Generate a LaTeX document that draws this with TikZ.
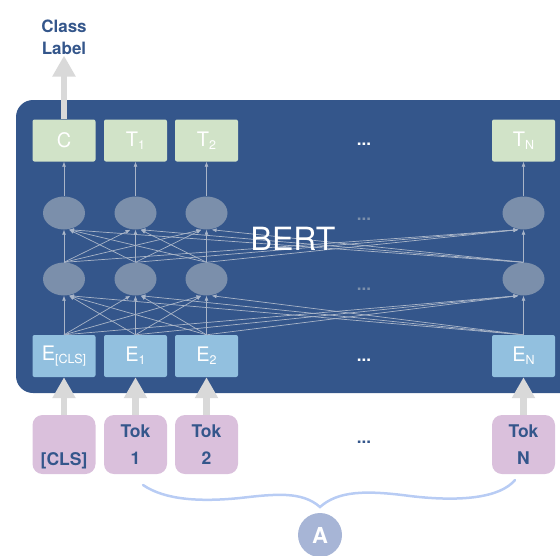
\documentclass[tikz,border=0pt]{standalone}
\usepackage{fontspec}
\setmainfont{TeX Gyre Heros}
\usetikzlibrary{arrows.meta,shapes.geometric}

\definecolor{bertblue}{HTML}{34568B}
\definecolor{hidden}{HTML}{7B8FAB}
\definecolor{outgreen}{HTML}{D1E3C8}
\definecolor{embblue}{HTML}{92C0DF}
\definecolor{tokpink}{HTML}{DAC0DC}
\definecolor{fatgray}{HTML}{D9D9D9}
\definecolor{linkgray}{HTML}{A9B5C8}
\definecolor{bracecol}{HTML}{B8CCF4}
\definecolor{circcol}{HTML}{A7B5D6}

% token with a lowered subscript
\newcommand\withsub[2]{#1{\fontsize{12.5}{12.5}\selectfont\raisebox{-3pt}{#2}}}

\tikzset{
  boxbase/.style={rectangle, rounded corners=2pt, minimum width=63pt, minimum height=42pt,
    inner sep=0pt, text=white, font=\fontsize{20}{22}\selectfont},
  outbox/.style={boxbase, fill=outgreen},
  embbox/.style={boxbase, fill=embblue},
  tokbox/.style={rectangle, rounded corners=10pt, minimum width=63pt, minimum height=59pt,
    inner sep=0pt, fill=tokpink, text=bertblue, align=center,
    font=\bfseries\fontsize{17.5}{27}\selectfont},
  hnode/.style={ellipse, fill=hidden, minimum width=42pt, minimum height=33pt, inner sep=0pt},
  link/.style={draw=linkgray, line width=0.7pt, -{Latex[length=5pt,width=4pt]}},
  fat/.style={draw=fatgray, line width=6.5pt, -{Triangle[width=22pt,length=21pt]}},
  dots/.style={font=\bfseries\fontsize{17}{17}\selectfont, inner sep=0pt},
}

\begin{document}
\begin{tikzpicture}[x=1pt,y=-1pt]
\clip (0,0) rectangle (560,555);

% encoder block
\fill[bertblue, rounded corners=17pt] (16,100) rectangle (578,393);

% output row
\node[outbox] (t1) at (64,140.5) {C};
\node[outbox] (t2) at (135.5,140.5) {\withsub{T}{1}};
\node[outbox] (t3) at (206.5,140.5) {\withsub{T}{2}};
\node[outbox] (t4) at (523.5,140.5) {\withsub{T}{N}};
\node[dots, text=white] (dtop) at (364,144) {...};

% hidden layers
\foreach \i/\x in {1/64,2/135.5,3/206.5,4/523.5}{
  \node[hnode] (b\i) at (\x,213) {};
  \node[hnode] (a\i) at (\x,279) {};
}
\node[dots, text=hidden] (dh1) at (364,219) {...};
\node[dots, text=hidden] (dh2) at (364,289) {...};

% embedding row
\node[embbox] (e1) at (64,356) {\withsub{E}{[CLS]}};
\node[embbox] (e2) at (135.5,356) {\withsub{E}{1}};
\node[embbox] (e3) at (206.5,356) {\withsub{E}{2}};
\node[embbox] (e4) at (523.5,356) {\withsub{E}{N}};
\node[dots, text=white] (demb) at (364,360) {...};

% input tokens
\node[tokbox] (k1) at (64,444.5) {\strut\\{[CLS]}};
\node[tokbox] (k2) at (135.5,444.5) {Tok\\1};
\node[tokbox] (k3) at (206.5,444.5) {Tok\\2};
\node[tokbox] (k4) at (523.5,444.5) {Tok\\N};
\node[dots, text=bertblue] (dtok) at (364,442) {...};

% fully connected attention links
\foreach \s in {1,...,4}{
  \foreach \t in {1,...,4}{
    \pgfmathsetmacro\dx{5*sign(\s-\t)}
    \draw[link] (e\s.north) -- ([xshift=\dx pt]a\t.south);
    \draw[link] (a\s.north) -- ([xshift=\dx pt]b\t.south);
  }
  \draw[link] (b\s.north) -- (t\s.south);
}

\node[font=\fontsize{32}{32}\selectfont, text=white] (bert) at (293,239) {BERT};

% token to embedding arrows
\foreach \i in {1,...,4}{
  \draw[fat] (k\i.north) -- (e\i.south);
}

% classification output
\node[align=center, text=bertblue, inner sep=1pt,
      font=\bfseries\fontsize{17}{22}\selectfont] (lbl) at (64,37) {Class\\Label};
\draw[fat] (t1.north) -- (lbl.south);

% sequence brace
\draw[bracecol, line width=2.5pt, line cap=round]
  (143,485) .. controls (165,500) and (200,502) .. (240,498)
  .. controls (275,494) and (302,491) .. (320,507)
  .. controls (338,491) and (365,490) .. (410,496)
  .. controls (460,502) and (500,498) .. (515,480);

\node[circle, fill=circcol, minimum size=44pt, inner sep=0pt, text=white,
      font=\bfseries\fontsize{22}{22}\selectfont] (seg) at (320,535) {A};
\end{tikzpicture}
\end{document}
